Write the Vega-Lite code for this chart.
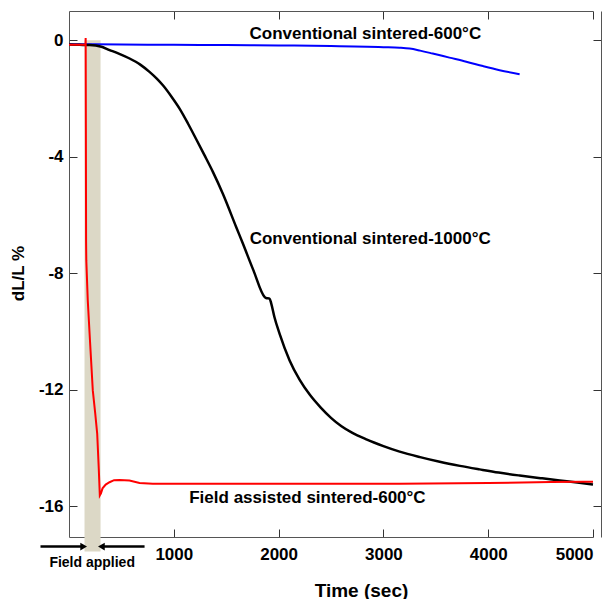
{
  "$schema": "https://vega.github.io/schema/vega-lite/v6.json",
  "width": 524,
  "height": 526,
  "autosize": "none",
  "padding": {"left": 69, "top": 11, "right": 18, "bottom": 62},
  "background": "white",
  "view": {"stroke": null},
  "config": {
    "axis": {
      "labelFont": "Liberation Sans",
      "labelFontWeight": "bold",
      "labelFontSize": 17,
      "labelColor": "black",
      "titleFont": "Liberation Sans",
      "titleFontWeight": "bold",
      "titleColor": "black",
      "domainColor": "#555555",
      "tickColor": "#333333",
      "grid": false,
      "tickSize": -8
    }
  },
  "datasets": {
    "black": [
      {"t": 0, "v": -0.15}, {"t": 100, "v": -0.16}, {"t": 196, "v": -0.17}, {"t": 300, "v": -0.22},
      {"t": 387, "v": -0.34}, {"t": 480, "v": -0.47}, {"t": 578, "v": -0.63}, {"t": 680, "v": -0.84},
      {"t": 768, "v": -1.09}, {"t": 840, "v": -1.33}, {"t": 896, "v": -1.55}, {"t": 980, "v": -1.95},
      {"t": 1055, "v": -2.35}, {"t": 1135, "v": -2.86}, {"t": 1214, "v": -3.4}, {"t": 1290, "v": -3.93},
      {"t": 1373, "v": -4.52}, {"t": 1468, "v": -5.27}, {"t": 1596, "v": -6.42}, {"t": 1659, "v": -6.98},
      {"t": 1760, "v": -7.9}, {"t": 1866, "v": -8.81}, {"t": 1880, "v": -8.85}, {"t": 1914, "v": -8.87},
      {"t": 1930, "v": -9.04}, {"t": 1960, "v": -9.5}, {"t": 2009, "v": -10.07}, {"t": 2105, "v": -10.99},
      {"t": 2200, "v": -11.65}, {"t": 2300, "v": -12.18}, {"t": 2400, "v": -12.6}, {"t": 2500, "v": -12.96},
      {"t": 2600, "v": -13.25}, {"t": 2700, "v": -13.47}, {"t": 2837, "v": -13.7}, {"t": 3000, "v": -13.93},
      {"t": 3155, "v": -14.12}, {"t": 3350, "v": -14.31}, {"t": 3537, "v": -14.47}, {"t": 3730, "v": -14.61},
      {"t": 3918, "v": -14.73}, {"t": 4100, "v": -14.84}, {"t": 4300, "v": -14.94}, {"t": 4500, "v": -15.03},
      {"t": 4682, "v": -15.11}, {"t": 4850, "v": -15.18}, {"t": 5000, "v": -15.25}
    ],
    "red": [
      {"t": 0, "v": -0.16}, {"t": 100, "v": -0.16}, {"t": 157, "v": -0.16}, {"t": 159, "v": 0.07},
      {"t": 161, "v": -3.0}, {"t": 163, "v": -6.9}, {"t": 165, "v": -7.55}, {"t": 179, "v": -8.93},
      {"t": 200, "v": -10.3}, {"t": 227, "v": -12.02}, {"t": 250, "v": -12.8}, {"t": 269, "v": -13.5},
      {"t": 284, "v": -14.7}, {"t": 294, "v": -15.62}, {"t": 305, "v": -15.55}, {"t": 320, "v": -15.38},
      {"t": 350, "v": -15.25}, {"t": 387, "v": -15.17}, {"t": 430, "v": -15.1}, {"t": 482, "v": -15.09},
      {"t": 530, "v": -15.1}, {"t": 577, "v": -15.11}, {"t": 673, "v": -15.2}, {"t": 800, "v": -15.22},
      {"t": 1500, "v": -15.22}, {"t": 2500, "v": -15.22}, {"t": 3155, "v": -15.22}, {"t": 4000, "v": -15.2},
      {"t": 4600, "v": -15.16}, {"t": 4900, "v": -15.15}, {"t": 5000, "v": -15.15}
    ],
    "blue": [
      {"t": 0, "v": -0.14}, {"t": 500, "v": -0.15}, {"t": 1000, "v": -0.16}, {"t": 1500, "v": -0.17},
      {"t": 2000, "v": -0.18}, {"t": 2500, "v": -0.2}, {"t": 3000, "v": -0.24}, {"t": 3155, "v": -0.26},
      {"t": 3250, "v": -0.29}, {"t": 3350, "v": -0.36}, {"t": 3470, "v": -0.46}, {"t": 3630, "v": -0.6},
      {"t": 3791, "v": -0.74}, {"t": 3950, "v": -0.89}, {"t": 4109, "v": -1.03}, {"t": 4300, "v": -1.17}
    ]
  },
  "layer": [
    {
      "data": {"values": [{"t1": 148, "t2": 301, "v1": 0, "v2": -17.55}]},
      "mark": {"type": "rect", "color": "#DCD8C6", "clip": false},
      "encoding": {
        "x": {"field": "t1", "type": "quantitative", "scale": {"domain": [0, 5000], "nice": false, "zero": false},
          "axis": {"orient": "bottom", "values": [1000, 2000, 3000, 4000, 5000], "labelExpr": "'' + datum.value", "labelPadding": 17, "title": "Time (sec)", "titleFontSize": 19, "titleX": 292, "titleY": 59, "titleBaseline": "alphabetic", "titleAlign": "center", "titleAnchor": null}},
        "x2": {"field": "t2"},
        "y": {"field": "v1", "type": "quantitative", "scale": {"domain": [-17.05, 1], "nice": false, "zero": false},
          "axis": {"orient": "left", "values": [0, -4, -8, -12, -16], "labelExpr": "'' + datum.value", "labelPadding": 14, "title": "dL/L %", "titleFontSize": 17, "titleX": -46, "titleY": 262, "titleAngle": -90, "titleBaseline": "alphabetic", "titleAlign": "center", "titleAnchor": null}},
        "y2": {"field": "v2"}
      }
    },
    {
      "data": {"name": "blue"},
      "mark": {"type": "line", "color": "#0000FF", "strokeWidth": 2, "interpolate": "monotone", "clip": false},
      "encoding": {
        "x": {"field": "t", "type": "quantitative",
          "axis": {"orient": "top", "values": [1000, 2000, 3000, 4000, 5000], "labels": false, "title": null}},
        "y": {"field": "v", "type": "quantitative",
          "axis": {"orient": "right", "offset": 8, "values": [0, -4, -8, -12, -16], "labels": false, "title": null}}
      }
    },
    {
      "data": {"name": "black"},
      "mark": {"type": "line", "color": "#000000", "strokeWidth": 2.5, "interpolate": "monotone", "clip": false},
      "encoding": {
        "x": {"field": "t", "type": "quantitative", "axis": null},
        "y": {"field": "v", "type": "quantitative", "axis": null}
      }
    },
    {
      "data": {"name": "red"},
      "mark": {"type": "line", "color": "#FF0000", "strokeWidth": 2, "clip": false},
      "encoding": {
        "x": {"field": "t", "type": "quantitative", "axis": null},
        "y": {"field": "v", "type": "quantitative", "axis": null}
      }
    },
    {
      "data": {"values": [
        {"t": 2828, "v": 0.045, "label": "Conventional sintered-600°C"},
        {"t": 2874, "v": -6.98, "label": "Conventional sintered-1000°C"},
        {"t": 2275, "v": -15.88, "label": "Field assisted sintered-600°C"}
      ]},
      "mark": {"type": "text", "font": "Liberation Sans", "fontWeight": "bold", "fontSize": 17, "align": "center", "baseline": "alphabetic", "color": "black", "clip": false},
      "encoding": {
        "x": {"field": "t", "type": "quantitative", "axis": null},
        "y": {"field": "v", "type": "quantitative", "axis": null},
        "text": {"field": "label"}
      }
    },
    {
      "data": {"values": [{"t": 221, "v": -18.09, "label": "Field applied"}]},
      "mark": {"type": "text", "font": "Liberation Sans", "fontWeight": "bold", "fontSize": 14, "align": "center", "baseline": "alphabetic", "color": "black", "clip": false},
      "encoding": {
        "x": {"field": "t", "type": "quantitative", "axis": null},
        "y": {"field": "v", "type": "quantitative", "axis": null},
        "text": {"field": "label"}
      }
    },
    {
      "data": {"values": [
        {"t": -272, "t2": 140, "v": -17.38},
        {"t": 721, "t2": 309, "v": -17.38}
      ]},
      "mark": {"type": "rule", "color": "black", "strokeWidth": 2.5, "clip": false},
      "encoding": {
        "x": {"field": "t", "type": "quantitative", "axis": null},
        "x2": {"field": "t2"},
        "y": {"field": "v", "type": "quantitative", "axis": null}
      }
    },
    {
      "data": {"values": [
        {"t": 140, "v": -17.38, "dir": "triangle-right"},
        {"t": 309, "v": -17.38, "dir": "triangle-left"}
      ]},
      "mark": {"type": "point", "filled": true, "color": "black", "size": 60, "opacity": 1, "clip": false},
      "encoding": {
        "x": {"field": "t", "type": "quantitative", "axis": null},
        "y": {"field": "v", "type": "quantitative", "axis": null},
        "shape": {"field": "dir", "type": "nominal", "scale": {"domain": ["triangle-right", "triangle-left"], "range": ["triangle-right", "triangle-left"]}, "legend": null}
      }
    }
  ],
  "resolve": {"axis": {"x": "independent", "y": "independent"}}
}
